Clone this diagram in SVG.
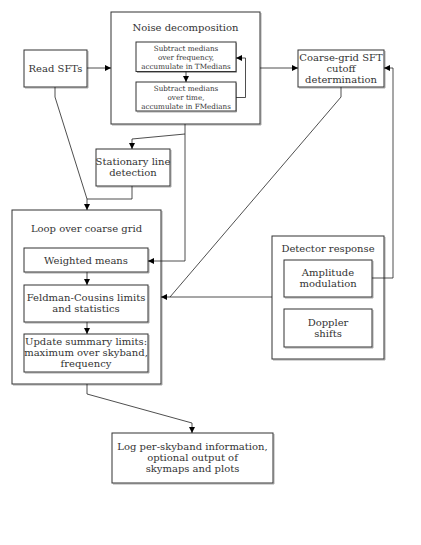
<svg xmlns="http://www.w3.org/2000/svg" width="421" height="545" viewBox="0 0 421 545">
<defs>
<marker id="ah" viewBox="0 0 10 10" refX="10" refY="5" markerWidth="6" markerHeight="6" orient="auto" markerUnits="userSpaceOnUse">
<path d="M0,0 L10,5 L0,10 z" fill="#000"/>
</marker>
</defs>
<style>
.box{fill:#fff;stroke:#333;stroke-width:1}
.sh{fill:none;stroke:#aaa;stroke-width:1}
.t{font-family:"DejaVu Serif",serif;font-size:10px;fill:#333;text-anchor:middle}
.s{font-family:"DejaVu Serif",serif;font-size:7.2px;fill:#333;text-anchor:middle}
.c{fill:none;stroke:#222;stroke-width:0.8}
</style>
<rect width="421" height="545" fill="#fff"/>

<g id="read-sfts">
<path class="sh" d="M88,51 V88 H25"/>
<rect class="box" x="24" y="50" width="63" height="37"/>
<text class="t" x="55.5" y="72">Read SFTs</text>
</g>

<g id="noise-decomposition">
<path class="sh" d="M261,13 V125 H112"/>
<rect class="box" x="111" y="12" width="149" height="112"/>
<text class="t" x="185.5" y="31">Noise decomposition</text>
</g>

<g id="subtract-freq">
<path class="sh" d="M236.5,43 V72.5 H137"/>
<rect class="box" x="136" y="42" width="100" height="29.5"/>
<text class="s" x="186" y="51">Subtract medians</text>
<text class="s" x="186" y="60">over frequency,</text>
<text class="s" x="186" y="69">accumulate in TMedians</text>
</g>

<g id="subtract-time">
<path class="sh" d="M236.5,83 V112 H137"/>
<rect class="box" x="136" y="82" width="100" height="29"/>
<text class="s" x="186" y="91">Subtract medians</text>
<text class="s" x="186" y="100">over time,</text>
<text class="s" x="186" y="109">accumulate in FMedians</text>
</g>

<g id="coarse-grid-cutoff">
<path class="sh" d="M385,51 V88 H299"/>
<rect class="box" x="298" y="50" width="86" height="37"/>
<text class="t" x="341" y="61">Coarse-grid SFT</text>
<text class="t" x="341" y="72">cutoff</text>
<text class="t" x="341" y="83">determination</text>
</g>

<g id="stationary-line">
<path class="sh" d="M171,150 V187 H97"/>
<rect class="box" x="96" y="149" width="74" height="37"/>
<text class="t" x="133" y="165">Stationary line</text>
<text class="t" x="133" y="176">detection</text>
</g>

<g id="loop-coarse-grid">
<path class="sh" d="M162,211 V385 H13"/>
<rect class="box" x="12" y="210" width="149" height="174"/>
<text class="t" x="86.5" y="232">Loop over coarse grid</text>
</g>

<g id="weighted-means">
<path class="sh" d="M149,249 V273 H25"/>
<rect class="box" x="24" y="248" width="124" height="24"/>
<text class="t" x="86" y="263.5">Weighted means</text>
</g>

<g id="feldman-cousins">
<path class="sh" d="M149,286 V323 H25"/>
<rect class="box" x="24" y="285" width="124" height="37"/>
<text class="t" x="86" y="301">Feldman-Cousins limits</text>
<text class="t" x="86" y="312">and statistics</text>
</g>

<g id="update-summary">
<path class="sh" d="M149,335 V373 H25"/>
<rect class="box" x="24" y="334" width="124" height="38"/>
<text class="t" x="86" y="345">Update summary limits:</text>
<text class="t" x="86" y="356">maximum over skyband,</text>
<text class="t" x="86" y="367">frequency</text>
</g>

<g id="detector-response">
<path class="sh" d="M385,237 V360 H273"/>
<rect class="box" x="272" y="236" width="112" height="123"/>
<text class="t" x="328" y="252">Detector response</text>
</g>

<g id="amplitude-modulation">
<path class="sh" d="M373,261 V298 H285"/>
<rect class="box" x="284" y="260" width="88" height="37"/>
<text class="t" x="328" y="276">Amplitude</text>
<text class="t" x="328" y="287">modulation</text>
</g>

<g id="doppler-shifts">
<path class="sh" d="M373,310 V348 H285"/>
<rect class="box" x="284" y="309" width="88" height="38"/>
<text class="t" x="328" y="326">Doppler</text>
<text class="t" x="328" y="337">shifts</text>
</g>

<g id="log-output">
<path class="sh" d="M274,434 V484 H113"/>
<rect class="box" x="112" y="433" width="161" height="50"/>
<text class="t" x="192.5" y="450">Log per-skyband information,</text>
<text class="t" x="192.5" y="461">optional output of</text>
<text class="t" x="192.5" y="472">skymaps and plots</text>
</g>

<g id="connectors">
<path class="c" d="M87,68 H111" marker-end="url(#ah)"/>
<path class="c" d="M186,71.5 V82" marker-end="url(#ah)"/>
<path class="c" d="M236,97.5 H245.5 V58 H236" marker-end="url(#ah)"/>
<path class="c" d="M260,68 H298" marker-end="url(#ah)"/>
<path class="c" d="M372,278 H393 V68 H384" marker-end="url(#ah)"/>
<path class="c" d="M185,124 V261 H148" marker-end="url(#ah)"/>
<path class="c" d="M185,134 L132,139 V149" marker-end="url(#ah)"/>
<path class="c" d="M55,87 V97 L87,199 V210" marker-end="url(#ah)"/>
<path class="c" d="M132,186 V199 H87"/>
<path class="c" d="M341,87 V97 L170,297"/>
<path class="c" d="M272,297 H161" marker-end="url(#ah)"/>
<path class="c" d="M87,272 V285" marker-end="url(#ah)"/>
<path class="c" d="M87,322 V334" marker-end="url(#ah)"/>
<path class="c" d="M87,384 V394 L192,423 V433" marker-end="url(#ah)"/>
</g>
</svg>
